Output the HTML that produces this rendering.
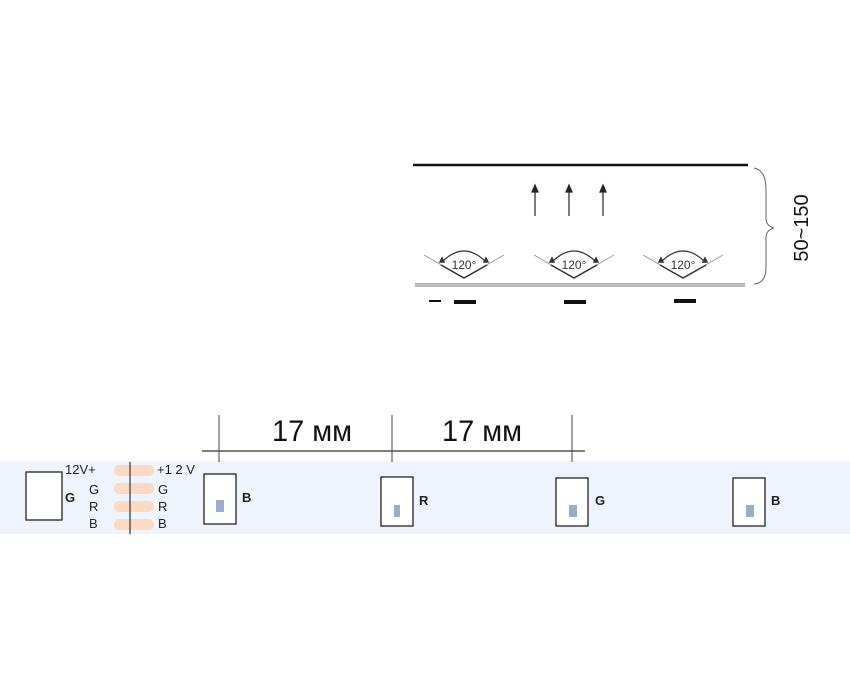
<!DOCTYPE html><html><head><style>body{margin:0;background:#fff;width:850px;height:700px;overflow:hidden;position:relative;font-family:"Liberation Sans",sans-serif}</style></head><body>
<svg width="850" height="700" style="position:absolute;left:0;top:0" font-family="Liberation Sans, sans-serif">
<line x1="413" y1="165" x2="748" y2="165" stroke="#111" stroke-width="2.5"/>
<line x1="415" y1="285" x2="745" y2="285" stroke="#999" stroke-width="3.5"/>
<line x1="415" y1="285" x2="745" y2="285" stroke="#ccc" stroke-width="1.5"/>
<path d="M754 168 Q766 170 766 190 L766 218 Q766 226 774 228 Q766 230 766 238 L766 268 Q766 283 754 284" fill="none" stroke="#666" stroke-width="1"/>
<text x="0" y="0" transform="translate(808,228) rotate(-90)" text-anchor="middle" font-size="20" fill="#111">50~150</text>
<g stroke="#222" stroke-width="1.2" fill="#222">
<line x1="535" y1="216" x2="535" y2="190"/><path d="M532 192 L535 185 L538 192Z"/>
<line x1="569" y1="216" x2="569" y2="190"/><path d="M566 192 L569 185 L572 192Z"/>
<line x1="603" y1="216" x2="603" y2="190"/><path d="M600 192 L603 185 L606 192Z"/>
</g>
<g id="a" stroke="#333" fill="none" stroke-width="1.5">
<path d="M424 255 L464 278 L504 255" stroke="#999" stroke-width="1"/>
<path d="M441 265 L464 278 L487 265"/>
<path d="M442 262 Q464 240 486 262" stroke-width="1.2"/>
<path d="M440 262 l4 0 l-2 -4z M488 262 l-4 0 l2 -4z" fill="#333"/>
</g>
<text x="464" y="269" font-size="12" text-anchor="middle" fill="#333">120°</text>
<use href="#a" x="110"/><text x="574" y="269" font-size="12" text-anchor="middle" fill="#333">120°</text>
<use href="#a" x="219"/><text x="683" y="269" font-size="12" text-anchor="middle" fill="#333">120°</text>
<rect x="429" y="300" width="12" height="2" fill="#111"/>
<rect x="454" y="300" width="22" height="4" fill="#111"/>
<rect x="564" y="300" width="22" height="4" fill="#111"/>
<rect x="674" y="299" width="22" height="4" fill="#111"/>
<rect x="0" y="461" width="850" height="73" fill="#eef3fc"/>
<line x1="202" y1="451" x2="585" y2="451" stroke="#333" stroke-width="1.2"/>
<g stroke="#444" stroke-width="1"><line x1="219" y1="415" x2="219" y2="462"/><line x1="392" y1="415" x2="392" y2="462"/><line x1="572" y1="415" x2="572" y2="462"/></g>
<text x="312" y="441" font-size="30" text-anchor="middle" fill="#111" textLength="80" lengthAdjust="spacingAndGlyphs">17 мм</text>
<text x="482" y="441" font-size="30" text-anchor="middle" fill="#111" textLength="80" lengthAdjust="spacingAndGlyphs">17 мм</text>
<g fill="#fbd9c3"><rect x="114" y="465" width="40" height="11" rx="5"/><rect x="114" y="483" width="40" height="11" rx="5"/><rect x="114" y="501" width="40" height="11" rx="5"/><rect x="114" y="519" width="40" height="11" rx="5"/></g>
<line x1="130" y1="462" x2="130" y2="534" stroke="#333" stroke-width="1.2"/>
<g font-size="13" fill="#222"><text x="65" y="474">12V+</text><text x="89" y="494">G</text><text x="89" y="511">R</text><text x="89" y="528">B</text>
<text x="157" y="474">+1 2 V</text><text x="158" y="494">G</text><text x="158" y="511">R</text><text x="158" y="528">B</text>
<text x="65" y="502" font-weight="bold">G</text><text x="242" y="502" font-weight="bold">B</text><text x="419" y="505" font-weight="bold">R</text><text x="595" y="505" font-weight="bold">G</text><text x="771" y="505" font-weight="bold">B</text></g>
<g fill="#fff" stroke="#222" stroke-width="1.3">
<rect x="26" y="472" width="36" height="48"/><rect x="204" y="474" width="32" height="50"/><rect x="381" y="477" width="32" height="49"/><rect x="556" y="478" width="32" height="48"/><rect x="733" y="478" width="32" height="48"/></g>
<g fill="#9aaecc"><rect x="216" y="500" width="8" height="12"/><rect x="394" y="505" width="6" height="12"/><rect x="569" y="505" width="8" height="12"/><rect x="746" y="505" width="8" height="12"/></g>
</svg></body></html>
